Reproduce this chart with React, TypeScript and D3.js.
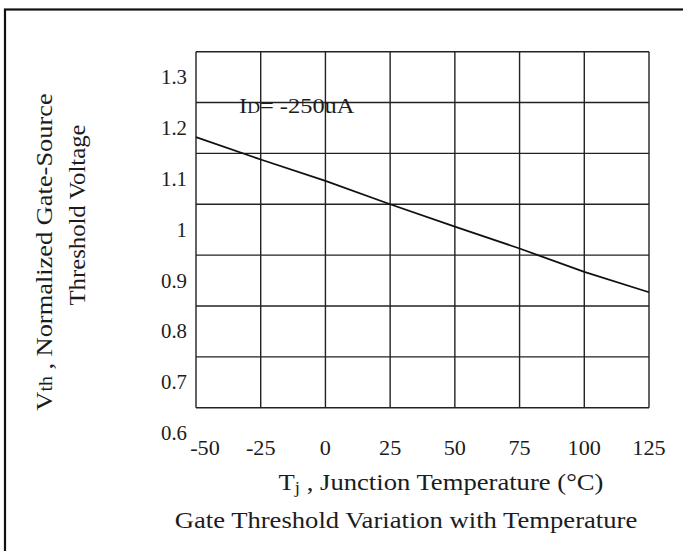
import React from "react";
import * as d3 from "d3";

// Tj (°C) and normalized Vth
const temps = [-50, -25, 0, 25, 50, 75, 100, 125];
const vth = [1.182, 1.138, 1.096, 1.05, 1.006, 0.963, 0.917, 0.877];

const xTicks = [-50, -25, 0, 25, 50, 75, 100, 125];
const yTickLabels = ["1.3", "1.2", "1.1", "1", "0.9", "0.8", "0.7", "0.6"];
// horizontal grid sits between the labels on this datasheet
const yGrid = [1.35, 1.25, 1.15, 1.05, 0.95, 0.85, 0.75, 0.65];

const W = 683;
const H = 551;
const font = "'Liberation Serif', 'Times New Roman', serif";
const ink = "#1c1c1c";
// the scanned type is a little wider than Liberation Serif
const stretch = 1.11;

const App = () => {
  const x = d3.scaleLinear().domain([-50, 125]).range([196, 649]);
  const y = d3.scaleLinear().domain([0.65, 1.35]).range([407.7, 51.7]);

  const pts = temps.map((t, i) => ({ t, v: vth[i] }));
  const line = d3.line<{ t: number; v: number }>()
    .x((d) => x(d.t))
    .y((d) => y(d.v));

  return (
    <div style={{ position: "absolute", left: 0, top: 0 }}>
      <svg width={W} height={H} style={{ display: "block", background: "#fff" }}>
        {/* outer frame */}
        <rect x={5} y={9.5} width={W} height={H} fill="none" stroke="#111" strokeWidth={2.2} />

        {/* grid */}
        {xTicks.map((t) => (
          <line key={"v" + t} x1={x(t)} x2={x(t)} y1={y(1.35)} y2={y(0.65)}
            stroke="#222" strokeWidth={1.4} />
        ))}
        {yGrid.map((g) => (
          <line key={"h" + g} x1={x(-50)} x2={x(125)} y1={y(g)} y2={y(g)}
            stroke="#222" strokeWidth={1.4} />
        ))}

        {/* curve */}
        <path d={line(pts) || ""} fill="none" stroke="#111" strokeWidth={1.8} />

        {/* y tick labels */}
        {yTickLabels.map((s) => (
          <text key={"yl" + s} transform={`translate(187,${y(+s)}) scale(1.04,1)`} dy="0.35em"
            textAnchor="end" fontFamily={font} fontSize={20} fill={ink}>{s}</text>
        ))}

        {/* x tick labels */}
        {xTicks.map((t) => (
          <text key={"xl" + t} transform={`translate(${x(t) + (t === -50 ? 9 : 0)},455) scale(1.06,1)`}
            textAnchor="middle" fontFamily={font} fontSize={21} fill={ink}>{t}</text>
        ))}

        {/* annotation */}
        <text transform={`translate(239,113) scale(${stretch},1)`} fontFamily={font} fontSize={22} fill={ink}>
          I<tspan fontSize={16}>D</tspan>= -250uA
        </text>

        {/* x axis title */}
        <text transform={`translate(441,490) scale(${stretch},1)`} textAnchor="middle"
          fontFamily={font} fontSize={24} fill={ink}>
          T<tspan fontSize={17} dy={3}>j</tspan><tspan dy={-3}> , Junction Temperature (°C)</tspan>
        </text>

        {/* y axis title */}
        <text transform={`translate(52,252) rotate(-90) scale(1.1,1)`} textAnchor="middle"
          fontFamily={font} fontSize={24} fill={ink}>
          V<tspan fontSize={18}>th</tspan> , Normalized Gate-Source
        </text>
        <text transform={`translate(85,215) rotate(-90) scale(1.03,1)`} textAnchor="middle"
          fontFamily={font} fontSize={24} fill={ink}>
          Threshold Voltage
        </text>

        {/* caption */}
        <text transform={`translate(406,528) scale(${stretch},1)`} textAnchor="middle"
          fontFamily={font} fontSize={24} fill={ink}>
          Gate Threshold Variation with Temperature
        </text>
      </svg>
    </div>
  );
};

export default App;
